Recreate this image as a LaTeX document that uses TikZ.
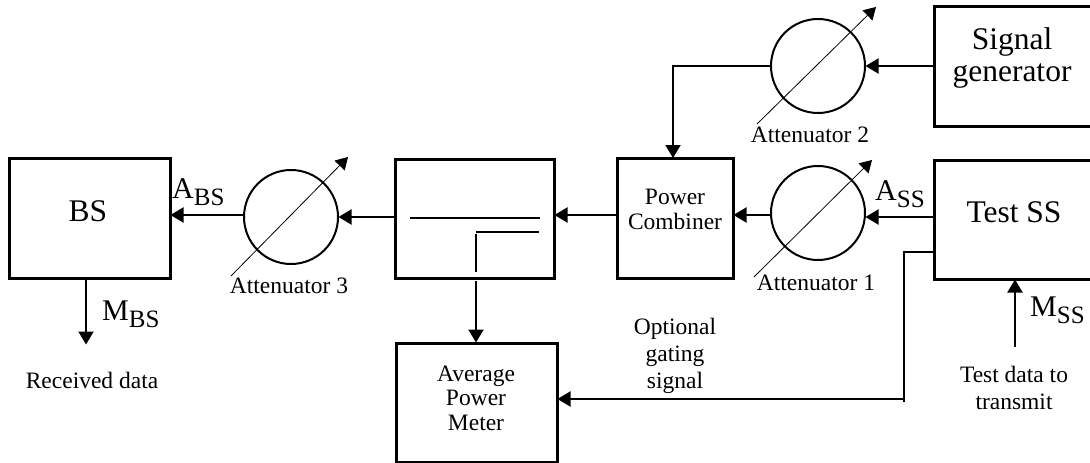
\documentclass[tikz,border=0pt]{standalone}
\usepackage{fontspec}
\setmainfont{Liberation Serif}
\usetikzlibrary{arrows.meta,calc}
\tikzset{
  x=1pt,y=-1pt,
  blockbox/.style={draw,line width=3pt,inner sep=0pt,outer sep=0pt,align=center},
  att/.style={draw,circle,line width=2pt,minimum size=94pt,inner sep=0pt,outer sep=0pt},
  conn/.style={line width=2pt,-{Triangle[length=13pt,width=15pt]},shorten >=0.5pt},
  plainline/.style={line width=2pt},
  tune/.style={line width=0.8pt,-{Triangle[length=12pt,width=14pt]}},
  big/.style={font=\fontsize{31.5}{32}\selectfont,align=center,inner sep=0pt},
  small/.style={font=\fontsize{23.5}{27}\selectfont,align=center,inner sep=0pt},
  tightsmall/.style={font=\fontsize{23.5}{24.5}\selectfont,align=center,inner sep=0pt},
  sublab/.style={font=\fontsize{30}{32}\selectfont,inner sep=0pt,anchor=base west},
}
\newcommand{\lab}[2]{#1\raisebox{-7.5pt}{\fontsize{25}{26}\selectfont #2}}
\begin{document}
\begin{tikzpicture}
\useasboundingbox (0,0) rectangle (1090,463);
\clip (0,0) rectangle (1090,463);
% boxes
\node[blockbox,minimum width=161pt,minimum height=120pt] (bs) at (89.5,218) {};
\node[blockbox,minimum width=159pt,minimum height=119pt] (coupler) at (474.5,218.5) {};
\node[blockbox,minimum width=116pt,minimum height=120pt] (pc) at (675,218.5) {};
\node[blockbox,minimum width=161pt,minimum height=119pt] (avg) at (476.5,402.5) {};
\node[blockbox,minimum width=170pt,minimum height=120pt] (sg) at (1019,66.5) {};
\node[blockbox,minimum width=170pt,minimum height=119pt] (ss) at (1019,219.5) {};
% attenuators
\node[att] (a3) at (291,217) {};
\node[att] (a1) at (818,213) {};
\node[att] (a2) at (818,66) {};
% box text
\node[big] (bst) at (88,211) {BS};
\node[big] (sgt) at (1012,58) {Signal\\generator};
\node[big] (sst) at (1014,212) {Test SS};
\node[tightsmall] (pct) at (675,209.5) {Power\\Combiner};
\node[tightsmall] (avgt) at (476,398) {Average\\Power\\Meter};
% attenuator labels
\node[small,anchor=base] (l3) at (289,293) {Attenuator 3};
\node[small,anchor=base] (l2) at (810,142) {Attenuator 2};
\node[small,anchor=base] (l1) at (816,290) {Attenuator 1};
% free labels
\node[sublab] (abs) at (172,198) {\lab{A}{BS}};
\node[sublab] (ass) at (875,200) {\lab{A}{SS}};
\node[sublab] (mbs) at (102,320) {\lab{M}{BS}};
\node[sublab] (mss) at (1030,316) {\lab{M}{SS}};
\node[small] (rx) at (92,380) {Received data};
\node[small] (tx) at (1014,388) {Test data to\\transmit};
\node[small] (gate) at (675,356) {Optional\\gating\\signal};
% free ends
\coordinate (mbsend) at (86,345);
\coordinate (mssstart) at (1015,347);
\coordinate (cornerA) at (673,66);
\coordinate (gateA) at (904,252);
\coordinate (gateB) at (904,399);
\coordinate (gateStub) at (904,402);
% tuning arrows
\coordinate (t3a) at (231,276); \coordinate (t3b) at (348,157);
\coordinate (t2a) at (757,124); \coordinate (t2b) at (876,7);
\coordinate (t1a) at (754,277); \coordinate (t1b) at (872,160);
\draw[tune] (t3a) -- (t3b);
\draw[tune] (t2a) -- (t2b);
\draw[tune] (t1a) -- (t1b);
% connectors
\draw[conn] (coupler.west |- a3.east) -- (a3.east);
\draw[conn] (a3.west) ++(0,-2) coordinate (a3w) -- (a3w -| bs.east);
\draw[conn] (pc.west |- 0,215) -- (coupler.east |- 0,215);
\draw[conn] (a1.west) ++(0,2) coordinate (a1w) -- (a1w -| pc.east);
\draw[conn] (ss.west |- 0,217) -- (a1.east |- 0,217);
\draw[conn] (sg.west |- a2.east) -- (a2.east);
\draw[plainline] (a2.west) -- (cornerA);
\draw[conn] ($(cornerA)+(0,-1)$) -- (cornerA |- pc.north);
\draw[conn] (bs.south -| mbsend) -- (mbsend);
\draw[conn] (mssstart) -- (mssstart |- ss.south);
\coordinate (cs) at (476,281);
\draw[conn] (cs) -- (cs |- avg.north);
\draw[plainline] (ss.west |- gateA) -- (gateA);
\draw[line width=1.2pt] ($(gateA)+(0,-1)$) -- (gateStub);
\draw[conn] (gateB) -- (gateB -| avg.east);
% coupler interior
\coordinate (c1a) at (410,218); \coordinate (c1b) at (540,218);
\coordinate (c2a) at (476,232); \coordinate (c2b) at (539,232);
\coordinate (c3a) at (476,234); \coordinate (c3b) at (476,272);
\draw[plainline] (c1a) -- (c1b);
\draw[plainline] (c2a) -- (c2b);
\draw[plainline] (c3a) -- (c3b);
\end{tikzpicture}
\end{document}
